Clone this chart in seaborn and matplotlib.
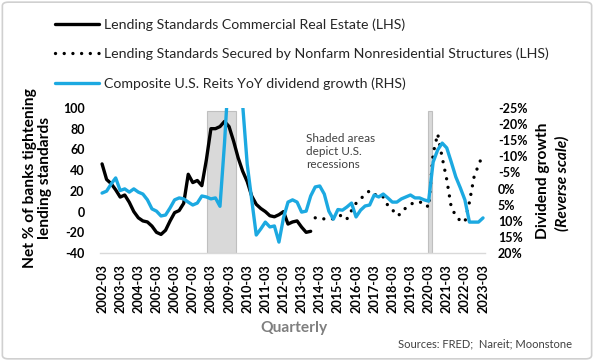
import numpy as np
import pandas as pd
import matplotlib
matplotlib.use("Agg")
import matplotlib.pyplot as plt
import seaborn as sns
from matplotlib.patches import FancyBboxPatch

# ---------------- data ----------------
quarters = pd.period_range("2002Q1", "2023Q1", freq="Q")
tick_labels = [f"{y}-03" for y in range(2002, 2024)]

# Lending standards, commercial real estate (LHS) 2002Q1-2013Q3
cre = [46, 31, 27, 21, 14, 16, 9, 0, -6, -9,
       -10, -14, -20, -22, -18, -9, -1, 1, 8, 36,
       28, 30, 25, 50, 80, 80, 82, 87, 82, 68,
       52, 39, 29, 15, 7, 3, 0, -4, -5, -3,
       0, -12, -10, -9, -15, -20, -19]

# Lending standards secured by nonfarm nonresidential structures (LHS) 2013Q4-2023Q1
nonfarm = [-6, -7, -7, -7, -7, -5, -3, -7, 1, 8,
           12, 17, 20, 16, 17, 14, 6, 2, -4, -2,
           4, 7, 9, 9, 9, 4, 56, 75, 52, 31,
           4, -4, -9, -10, 9, 33, 45, 55]

# Composite U.S. REITs YoY dividend growth, % (RHS, reverse scale) 2002Q1-2023Q1
div_growth = [1.4, 0.8, -1.4, -3.3, 0.6, 0.1, 1.1, 0.1, 1.1, 1.7,
              3.5, 6.3, 7.0, 8.5, 8.2, 6.0, 3.5, 2.9, 3.2, 4.2,
              5.1, 4.5, 2.3, 2.6, 3.2, 2.9, 5.5, -14.1, -38.0, -48.0,
              -45.0, -26.0, -7.6, 3.5, 14.4, 12.5, 10.4, 11.9, 11.6, 16.6,
              9.1, 4.2, 3.5, 4.2, 7.3, 7.0, 2.3, -0.5, -0.8, 1.7,
              7.0, 9.5, 6.5, 6.7, 5.7, 4.5, 8.8, 6.7, 5.4, 5.1,
              2.0, 2.6, 1.7, 2.9, 4.2, 4.2, 3.2, 2.6, 2.0, 2.9,
              2.9, 3.5, 3.9, -8.2, -12.0, -14.1, -12.6, -8.2, -3.6, -0.2,
              3.5, 10.4, 10.4, 10.4, 9.1]

# NBER recessions (start year, start month, end year, end month)
recessions = [(2007, 12, 2009, 6), (2020, 2, 2020, 4)]

left_ticks = [-40, -20, 0, 20, 40, 60, 80, 100]
right_ticks = [-25, -20, -15, -10, -5, 0, 5, 10, 15, 20]

# ---------------- frames ----------------
idx = np.arange(len(quarters))
df_div = pd.DataFrame({"q": idx, "v": div_growth})
df_cre = pd.DataFrame({"q": idx[:len(cre)], "v": cre})
df_nf = pd.DataFrame({"q": idx[len(idx) - len(nonfarm):], "v": nonfarm})

sns.set_theme(style="white")
plt.rcParams["font.family"] = ["Lato", "DejaVu Sans"]

fig = plt.figure(figsize=(5.94, 3.61), dpi=100)
ax = fig.add_axes([0.168, 0.299, 0.649, 0.402])
ax2 = ax.twinx()

BLUE = "#1CA9E1"

# recession shading
for (sy, sm, ey, em) in recessions:
    s = (sy + (sm - 1) / 12 - 2002) * 4 - 0.5
    e = (ey + em / 12 - 2002) * 4 - 0.5
    ax.axvspan(s, e, ymin=0, ymax=(97 + 40) / 140, facecolor="#d9d9d9",
               edgecolor="#bfbfbf", lw=0.8, zorder=0)

sns.lineplot(data=df_cre, x="q", y="v", ax=ax, color="black", lw=2.4,
             label="Lending Standards Commercial Real Estate (LHS)", legend=False,
             zorder=3)
sns.lineplot(data=df_nf, x="q", y="v", ax=ax, color="black", lw=2.4,
             dashes=False, label="Lending Standards Secured by Nonfarm Nonresidential Structures (LHS)",
             legend=False, zorder=3)
nf_line = ax.get_lines()[-1]
nf_line.set_linestyle((0, (0.01, 2.6)))
nf_line.set_dash_capstyle("round")

sns.lineplot(data=df_div, x="q", y="v", ax=ax2, color=BLUE, lw=2.4,
             label="Composite U.S. Reits YoY dividend growth (RHS)", legend=False,
             zorder=3)

ax.set_xlim(-0.5, len(idx) - 0.5)
ax.set_ylim(-40, 100)
ax2.set_ylim(20, -25)

ax.set_xticks(idx[::4])
ax.set_xticklabels(tick_labels, rotation=90, fontsize=9.1, fontweight="bold",
                   color="black")
ax.set_yticks(left_ticks)
ax.set_yticklabels([str(t) for t in left_ticks], fontsize=9, fontweight="bold",
                   color="black")
ax2.set_yticks(right_ticks)
ax2.set_yticklabels([f"{t}%" for t in right_ticks], fontsize=9,
                    fontweight="bold", color="black")
ax.tick_params(axis="x", length=0, pad=8)
ax.tick_params(axis="y", length=0, pad=11)
ax2.tick_params(axis="y", length=0, pad=9)
ax.set_xlabel("")
ax.set_ylabel("")
ax2.set_ylabel("")

for a in (ax, ax2):
    for side in ("top", "left", "right"):
        a.spines[side].set_visible(False)
    a.spines["bottom"].set_color("#d9d9d9")
    a.spines["bottom"].set_linewidth(1.0)
    a.grid(False)
ax2.spines["bottom"].set_visible(False)

# legend
handles = ax.get_lines()[:2] + ax2.get_lines()[:1]
labels = [h.get_label() for h in handles]
leg = fig.legend(handles, labels, loc="upper left",
                 bbox_to_anchor=(55 / 594, 1 - 18 / 361), frameon=False,
                 fontsize=10.2, handlelength=3.1, handletextpad=0.35,
                 labelspacing=1.2, borderaxespad=0, borderpad=0)
for t in leg.get_texts():
    t.set_color("#262626")

# annotations
fig.text(0.063, 0.507, "Net % of banks tightening\nlending standards",
         rotation=90, ha="center", va="center", fontsize=11.2,
         fontweight="bold", color="black", linespacing=1.15)
fig.text(543 / 594, 1 - 181 / 361, "Dividend growth", rotation=90,
         ha="center", va="center", fontsize=11.2, fontweight="bold",
         color="black")
fig.text(562 / 594, 1 - 183 / 361, "(Reverse scale)", rotation=90,
         ha="center", va="center", fontsize=11.2, fontweight="bold",
         fontstyle="italic", color="black")
fig.text(306 / 594, 1 - 133 / 361, "Shaded areas\ndepict U.S.\nrecessions",
         ha="left", va="top", fontsize=8.5, color="#404040", linespacing=1.25)
fig.text(294 / 594, 1 - 328 / 361, "Quarterly", ha="center", va="center",
         fontsize=11.2, fontweight="bold", color="#7f7f7f")
fig.text(572 / 594, 1 - 344 / 361, "Sources: FRED;  Nareit; Moonstone",
         ha="right", va="center", fontsize=8, color="#404040")

border = FancyBboxPatch((0.004, 0.006), 0.992, 0.988, transform=fig.transFigure,
                        boxstyle="round,pad=0,rounding_size=0.01",
                        fill=False, edgecolor="#d0d0d0", lw=1.2)
fig.patches.append(border)

fig.savefig("out.png", dpi=100)
